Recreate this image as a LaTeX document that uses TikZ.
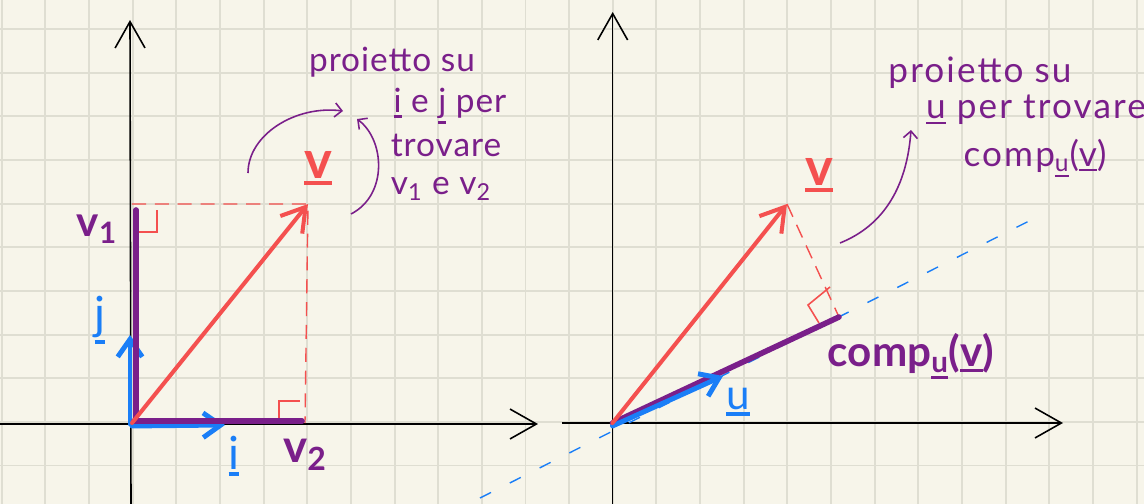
\documentclass[tikz,border=0pt]{standalone}
\usepackage{fontspec}
\setmainfont{Lato}
\usetikzlibrary{arrows.meta}
\definecolor{paper}{HTML}{F7F5EA}
\definecolor{gridc}{HTML}{DFDED2}
\definecolor{vred}{HTML}{F4504F}
\definecolor{vpur}{HTML}{7A1F8A}
\definecolor{vblue}{HTML}{1A7EF7}
\newcommand\ulx[2][1.2pt]{\leavevmode\vtop{\hbox{#2}\kern1.5pt\hrule height #1}}
\begin{document}
\begin{tikzpicture}[x=0.02cm,y=-0.02cm,
  gridline/.style={gridc,line width=1.1pt},
  axis/.style={black,line width=0.9pt,-{Straight Barb[length=15pt,width=17pt]}},
  vecred/.style={vred,line width=2.3pt,line cap=round,-{Straight Barb[length=13pt,width=16pt]}},
  vecblue/.style={vblue,line width=2.8pt,line cap=round,-{Straight Barb[length=10pt,width=14pt]}},
  segpur/.style={vpur,line width=3.2pt,line cap=round},
  dashred/.style={vred,line width=0.8pt,dash pattern=on 8pt off 5pt},
  dashblue/.style={vblue,line width=0.8pt,dash pattern=on 7pt off 12pt},
  rangle/.style={vred,line width=0.9pt},
  note/.style={vpur,line width=0.9pt,-{Straight Barb[length=4pt,width=8pt]}},
  notetext/.style={vpur,font=\fontsize{19}{22}\selectfont\addfontfeatures{LetterSpace=3},inner sep=0pt},
  notetextR/.style={vpur,font=\fontsize{20}{23}\selectfont\addfontfeatures{LetterSpace=6},inner sep=0pt},
  biglbl/.style={font=\bfseries\fontsize{24}{28}\selectfont,inner sep=0pt},
]
\fill[paper] (0,0) rectangle (1144,504);
\useasboundingbox (0,0) rectangle (1144,504);
% grid
\foreach \k in {0,...,26} \draw[gridline] ({1.7+43.65*\k},0) -- ({1.7+43.65*\k},504);
\foreach \k in {0,...,10} \draw[gridline] (0,{29+43.65*\k}) -- (1144,{29+43.65*\k});

% ---------- left diagram ----------
\coordinate (O1) at (132,423);
\coordinate (Y1a) at (131,504); \coordinate (Y1b) at (130,20);
\coordinate (X1a) at (0,424); \coordinate (X1b) at (538,424);
\draw[axis] (Y1a) -- (Y1b);
\draw[axis] (X1a) -- (X1b);
\coordinate (V1tip) at (308,204);
\coordinate (V1top) at (132,204);
\coordinate (V1foot) at (305,423);
\draw[dashred] (V1top) -- (V1tip) -- (V1foot);
\draw[rangle] (133,232) -- (157,232) -- (157,210);
\draw[rangle] (279,420) -- (279,401) -- (300,401);
\coordinate (P1a) at (136,421); \coordinate (P1b) at (136,210);
\coordinate (P2a) at (134,421); \coordinate (P2b) at (302,421);
\coordinate (Bi0) at (132,426); \coordinate (Bi1) at (225,425);
\coordinate (Bj0) at (130,424); \coordinate (Bj1) at (130,335);
\draw[vecblue] (Bj0) -- (Bj1);
\draw[vecblue] (Bi0) -- (Bi1);
\draw[segpur] (P1a) -- (P1b);
\draw[segpur] (P2a) -- (P2b);
\draw[vecred] (O1) -- (V1tip);
\node[biglbl,vred,font=\bfseries\fontsize{30}{32}\selectfont] (lv1) at (318,168) {\ulx[2.2pt]{v}};
\node[biglbl,vpur] (lv1x) at (97,229) {v\textsubscript{1}};
\node[biglbl,vpur,font=\bfseries\fontsize{26}{28}\selectfont] (lv2x) at (305,455) {v\textsubscript{2}};
\node[biglbl,vblue,font=\fontsize{26}{28}\selectfont] (lj) at (100,320) {\ulx[2pt]{j}};
\node[biglbl,vblue,font=\fontsize{26}{28}\selectfont] (li) at (234,456) {\ulx[2pt]{i}};
% annotation left
\node[notetext] (t1) at (392,62) {proietto su};
\node[notetext] (t2) at (450,106) {\ulx{i} e \ulx{j} per};
\node[notetext] (t3) at (446,145) {trovare};
\node[notetext] (t4) at (441,189) {v\textsubscript{1} e v\textsubscript{2}};
\coordinate (A1s) at (248,173); \coordinate (A1e) at (343,111);
\coordinate (A2s) at (351,214); \coordinate (A2e) at (357,119);
\draw[note] (A1s) .. controls (248,135) and (295,105) .. (A1e);
\draw[note] (A2s) .. controls (388,195) and (385,140) .. (A2e);

% ---------- right diagram ----------
\coordinate (O2) at (612.5,423);
\coordinate (Y2a) at (612.7,504); \coordinate (Y2b) at (612.7,12);
\coordinate (X2a) at (562,423); \coordinate (X2b) at (1063,423);
\draw[axis] (Y2a) -- (Y2b);
\draw[axis] (X2a) -- (X2b);
\coordinate (L0) at (480,498); \coordinate (L1) at (1035,218);
\draw[dashblue] (L0) -- (L1);
\coordinate (V2tip) at (787,204);
\coordinate (Cend) at (839,317);
\draw[dashred] (V2tip) -- (Cend);
\draw[rangle] (819,323) -- (808,305) -- (830,287);
\coordinate (U0) at (612.5,426); \coordinate (U1) at (723,376);
\draw[segpur] (O2) -- (Cend);
\draw[vecblue] (U0) -- (U1);
\draw[vecred] (O2) -- (V2tip);
\node[biglbl,vred,font=\bfseries\fontsize{30}{32}\selectfont] (lv2) at (819,175) {\ulx[2.2pt]{v}};
\node[biglbl,vblue,font=\fontsize{24}{26}\selectfont] (lu) at (738,402) {\ulx[2pt]{u}};
\node[biglbl,vpur] (lcomp) at (911,356) {comp\textsubscript{\ulx[1.8pt]{u}}(\ulx[1.8pt]{v})};
% annotation right
\node[notetextR] (r1) at (980,73) {proietto su};
\node[notetextR] (r2) at (1036,110) {\ulx{u} per trovare};
\node[notetextR] (r3) at (1035,158) {comp\textsubscript{\ulx{u}}(\ulx{v})};
\coordinate (A3s) at (840,243); \coordinate (A3e) at (911,130);
\draw[note] (A3s) .. controls (885,225) and (907,185) .. (A3e);
\end{tikzpicture}
\end{document}
